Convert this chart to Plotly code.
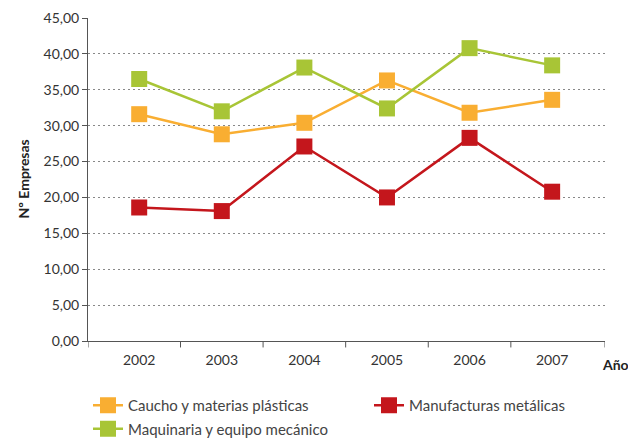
import plotly.graph_objects as go

years = ["2002", "2003", "2004", "2005", "2006", "2007"]
caucho = [31.6, 28.8, 30.4, 36.3, 31.8, 33.6]
manufacturas = [18.6, 18.1, 27.1, 20.0, 28.3, 20.8]
maquinaria = [36.5, 32.0, 38.1, 32.4, 40.8, 38.4]
y_ticks = [0, 5, 10, 15, 20, 25, 30, 35, 40, 45]

idx = list(range(len(years)))
orange = "#F9AE32"
red = "#C4161C"
green = "#A8C536"
font = "Lato, 'Open Sans', sans-serif"

OFF = 8  # page body margin
W, H = 636, 438
L = 88 - OFF
T = 18 - OFF
B = H - (341 - OFF)
R = W - (605 - OFF)
pw, ph = W - L - R, H - T - B

def px_x(p):
    return (p - OFF - L) / pw

def px_y(p):
    return (H - B - (p - OFF)) / ph

fig = go.Figure()
series = [
    ("Caucho y materias plásticas", caucho, orange, "legend", "g1"),
    ("Maquinaria y equipo mecánico", maquinaria, green, "legend", "g2"),
    ("Manufacturas metálicas", manufacturas, red, "legend2", "g3"),
]
for name, vals, col, leg, grp in series:
    fig.add_trace(go.Scatter(
        x=idx, y=vals, name=name, mode="lines+markers",
        line=dict(color=col, width=2.5),
        marker=dict(symbol="square", size=16, color=col),
        legend=leg, legendgroup=grp,
    ))

x0, x1 = -0.62, 5.64
bounds = [x0] + [i + 0.5 for i in idx[:-1]] + [x1]
shapes = [dict(type="line", xref="x", yref="paper", x0=b, x1=b, y0=0, y1=-0.02,
               line=dict(color="#555", width=1)) for b in bounds]

legfont = dict(size=15, color="#444", family=font)
fig.update_layout(
    width=W, height=H,
    margin=dict(l=L, r=R, t=T, b=B, autoexpand=False),
    paper_bgcolor="white", plot_bgcolor="white",
    separators=",.",
    font=dict(family=font, size=14, color="#333"),
    showlegend=True,
    legend=dict(orientation="v", x=px_x(88), xanchor="left", y=px_y(389), yanchor="top",
                font=legfont, tracegroupgap=1, bgcolor="rgba(0,0,0,0)"),
    legend2=dict(orientation="v", x=px_x(369), xanchor="left", y=px_y(389), yanchor="top",
                 font=legfont, bgcolor="rgba(0,0,0,0)"),
    xaxis=dict(range=[x0, x1], tickvals=idx, ticktext=years, ticks="",
               showgrid=False, zeroline=False, showline=True, linecolor="#555",
               linewidth=1, ticklabelstandoff=6, tickfont=dict(size=14, color="#333")),
    yaxis=dict(range=[0, 45], tickvals=y_ticks, tickformat=".2f", ticks="outside",
               ticklen=5, tickcolor="#555", showline=True, linecolor="#555",
               linewidth=1, zeroline=False, showgrid=True, gridcolor="#888",
               griddash="1.5px,3.5px", gridwidth=1.2, tickfont=dict(size=14, color="#333")),
    shapes=shapes,
    annotations=[
        dict(text="<b>Nº Empresas</b>", xref="paper", yref="paper",
             x=px_x(12), y=px_y(179), textangle=-90, showarrow=False,
             font=dict(size=14, color="#222")),
        dict(text="<b>Año</b>", xref="paper", yref="paper",
             x=px_x(600), xanchor="left", y=px_y(375), showarrow=False,
             font=dict(size=14, color="#222")),
    ],
)

fig.write_html("out.html")
